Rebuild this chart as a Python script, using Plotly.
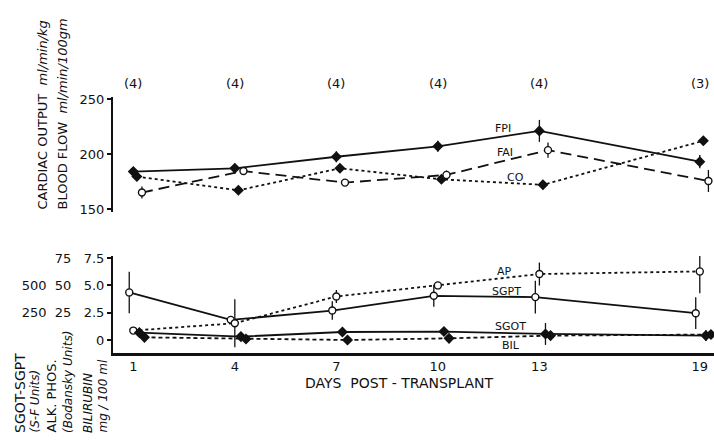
import plotly.graph_objects as go

# ---------------- data ----------------
day_labels = ["1", "4", "7", "10", "13", "19"]
day_slot = [0, 1, 2, 3, 4, 5.58]          # drawing slot of each day on the (non-linear) day axis
n_counts = ["(4)", "(4)", "(4)", "(4)", "(4)", "(3)"]

# upper panel (ml/min/kg , ml/min/100 gm)
fpi = [184, 187, 197.5, 207, 221, 193]
fpi_err = [3, 3, 5, 5, 10, 6]
fai = [165, 184.5, 174, 181, 203.5, 175.5]
fai_err = [5.5, 3, 2, 4, 7, 10]
co = [179.5, 167, 187, 177, 172, 212]
co_err = [4, 2, 2, 3, 4, 4]

# lower panel (scaled to the 0-7.5 axis)
sgpt = [4.35, 1.84, 2.69, 4.04, 3.92, 2.45]
sgpt_err = [1.9, 0.3, 0.85, 1.0, 1.5, 1.45]
ap = [0.86, 1.53, 3.98, 4.99, 6.03, 6.27]
ap_err = [0.25, 2.2, 0.6, 0.3, 1.05, 2.0]
sgot = [0.67, 0.31, 0.73, 0.77, 0.55, 0.4]
sgot_err = [0.4, 0.2, 0.4, 0.4, 1.0, 0.5]
bil = [0.24, 0.09, 0.0, 0.15, 0.4, 0.5]
bil_err = [0.15, 0.15, 0.1, 0.15, 0.15, 0.3]

top_ticks = [150, 200, 250]
bot_ticks = [0, 2.5, 5.0, 7.5]
NB = "\u00a0"
bot_ticktext = ["0",
                "250" + NB * 2 + "25" + NB * 3 + "2.5",
                "500" + NB * 2 + "50" + NB * 3 + "5.0",
                "75" + NB * 3 + "7.5"]

FONT = "DejaVu Sans"
BLACK = "#111"

# ---------------- geometry (page pixels -> paper) ----------------
W, H = 714, 441
ML, MR, MT, MB = 113, 0, 97, 88
PW, PH = W - ML - MR, H - MT - MB


def px(x):
    return (x - ML) / PW


def py(y):
    return (H - MB - y) / PH


def shifted(vals, off):
    return [v + off for v in vals]


fig = go.Figure()


def add_series(x, y, err, dash, filled, xa, ya, off):
    marker = dict(symbol="diamond" if filled else "circle",
                  size=7,
                  color=BLACK if filled else "white",
                  line=dict(color=BLACK, width=1.4))
    fig.add_trace(go.Scatter(
        x=shifted(x, off), y=y, mode="lines+markers",
        line=dict(color=BLACK, width=1.8, dash=dash),
        marker=marker,
        error_y=dict(type="data", array=err, visible=True, color=BLACK,
                     thickness=1.3, width=0),
        xaxis=xa, yaxis=ya, showlegend=False, hoverinfo="skip"))


# upper panel
add_series(day_slot, fpi, fpi_err, "solid", True, "x2", "y2", 0.0)
add_series(day_slot, co, co_err, "3px,3px", True, "x2", "y2", 0.035)
add_series(day_slot, fai, fai_err, "11px,6px", False, "x2", "y2", 0.085)

# lower panel
add_series(day_slot, sgpt, sgpt_err, "solid", False, "x", "y", -0.04)
add_series(day_slot, ap, ap_err, "3px,3px", False, "x", "y", 0.0)
add_series(day_slot, sgot, sgot_err, "solid", True, "x", "y", 0.06)
add_series(day_slot, bil, bil_err, "4px,3px", True, "x", "y", 0.11)

xrange_ = [-0.2, 5.72]
tickfont = dict(family=FONT, size=13, color=BLACK)

annotations = []
# n per time point
for s, t in zip(day_slot, n_counts):
    annotations.append(dict(x=s, y=py(83), xref="x2", yref="paper", text=t,
                            showarrow=False, font=tickfont,
                            xanchor="center", yanchor="middle"))

# series labels
lab_font = dict(family=FONT, size=11, color=BLACK)
for text, xs, yv, ref in [("FPI", 3.64, 223.5, "y2"), ("FAI", 3.66, 201.5, "y2"),
                          ("CO", 3.76, 178.5, "y2"),
                          ("AP", 3.66, 6.22, "y"), ("SGPT", 3.68, 4.39, "y"),
                          ("SGOT", 3.72, 1.19, "y"), ("BIL", 3.72, -0.46, "y")]:
    annotations.append(dict(x=xs, y=yv, xref="x", yref=ref, text=text,
                            showarrow=False, font=lab_font,
                            xanchor="center", yanchor="middle"))

# x-axis title
annotations.append(dict(x=px(399), y=py(383), xref="paper", yref="paper",
                        text="DAYS  POST - TRANSPLANT", showarrow=False,
                        font=dict(family=FONT, size=14, color=BLACK),
                        xanchor="center", yanchor="middle"))

# rotated y titles
rot = [("CARDIAC OUTPUT  <i>ml/min/kg</i>", 42, 212, 13),
       ("BLOOD FLOW  <i>ml/min/100gm</i>", 62, 212, 13),
       ("SGOT-SGPT", 20, 435, 14),
       ("<i>(S-F Units)</i>", 34, 435, 12),
       ("ALK. PHOS.", 51, 435, 13),
       ("<i>(Bodansky Units)</i>", 68, 435, 12),
       ("<i>BILIRUBIN</i>", 88, 435, 12),
       ("<i>mg / 100 ml</i>", 102, 435, 12)]
for text, x, y, size in rot:
    annotations.append(dict(x=px(x), y=py(y), xref="paper", yref="paper",
                            text=text, textangle=-90, showarrow=False,
                            font=dict(family=FONT, size=size, color=BLACK),
                            xanchor="center", yanchor="bottom"))

fig.update_layout(
    width=W, height=H,
    margin=dict(l=ML, r=MR, t=MT, b=MB),
    paper_bgcolor="white", plot_bgcolor="white",
    font=dict(family=FONT, color=BLACK),
    xaxis=dict(range=xrange_, domain=[0, 1], anchor="y",
               tickvals=day_slot, ticktext=day_labels, ticks="",
               showline=True, linecolor=BLACK, linewidth=2.5,
               showgrid=False, zeroline=False, tickfont=tickfont),
    xaxis2=dict(range=xrange_, domain=[0, 1], anchor="y2", visible=False),
    yaxis=dict(range=[-1.19, 7.68], domain=[0, py(256)], anchor="x",
               tickvals=bot_ticks, ticktext=bot_ticktext,
               ticks="outside", ticklen=4, tickwidth=1.5, tickcolor=BLACK,
               showline=True, linecolor=BLACK, linewidth=2,
               showgrid=False, zeroline=False, tickfont=tickfont),
    yaxis2=dict(range=[147.3, 251.8], domain=[py(212), 1], anchor="x2",
                tickvals=top_ticks, ticks="outside", ticklen=4, tickwidth=1.5,
                tickcolor=BLACK, showline=True, linecolor=BLACK, linewidth=2,
                showgrid=False, zeroline=False, tickfont=tickfont),
    annotations=annotations,
    hovermode=False,
)

fig.write_html("out.html",
               config={"displayModeBar": False},
               post_script="document.body.style.margin='0px';")
